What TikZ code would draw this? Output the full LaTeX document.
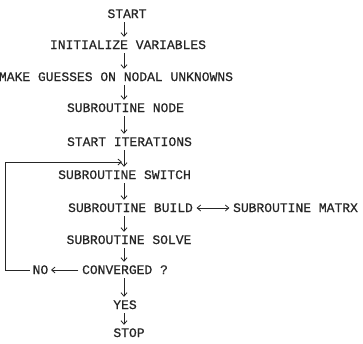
\documentclass[tikz,border=0pt]{standalone}
\usepackage{fontspec}
\newfontfamily\typer[FakeBold=0.5]{Liberation Mono}
\usetikzlibrary{arrows.meta}

\begin{document}
\begin{tikzpicture}[>={Straight Barb[length=3.5pt,width=6pt]},x=1pt,y=-1pt,
    lbl/.style={font=\typer\fontsize{13}{13}\selectfont,text=black!85,
      text height=8pt,text depth=0pt,inner xsep=3.5pt,inner ysep=4pt},
    flow/.style={->,line width=0.8pt,black!85}]
  \useasboundingbox[fill=white] (0,0) rectangle (363,343);
  % column of the down arrows
  \coordinate (col) at (124,0);
  % main chain
  \node[lbl] (start)  at (127,14)   {START};
  \node[lbl] (init)   at (128,45)   {INITIALIZE VARIABLES};
  \node[lbl] (guess)  at (116,77)   {MAKE GUESSES ON NODAL UNKNOWNS};
  \node[lbl] (node)   at (125.5,108) {SUBROUTINE NODE};
  \node[lbl] (iter)   at (129.5,142) {START ITERATIONS};
  \node[lbl] (switch) at (124.5,175) {SUBROUTINE SWITCH};
  \node[lbl] (build)  at (130.5,208) {SUBROUTINE BUILD};
  \node[lbl] (matrx)  at (295.5,208) {SUBROUTINE MATRX};
  \node[lbl] (solve)  at (129,240)  {SUBROUTINE SOLVE};
  \node[lbl] (conv)   at (125,270)  {CONVERGED ?};
  \node[lbl,inner xsep=2.5pt] (no) at (40.5,270) {NO};
  \node[lbl] (yes)    at (125,305)  {YES};
  \node[lbl] (stop)   at (129,333)  {STOP};
  % down arrows
  \foreach \a/\b in {start/init,init/guess,guess/node,node/iter,iter/switch,
                     switch/build,build/solve,solve/conv,conv/yes,yes/stop}{
    \draw[flow] (\a.south -| col) -- (\b.north -| col);
  }
  % side branches
  \draw[flow,<->] (build) -- (matrx);
  \draw[flow] (conv) -- (no);
  % iteration loop
  \coordinate (back) at (5,162);
  \coordinate (join) at (122,162);
  \draw[flow] (no.west) -| (back) -- (join);
\end{tikzpicture}
\end{document}
